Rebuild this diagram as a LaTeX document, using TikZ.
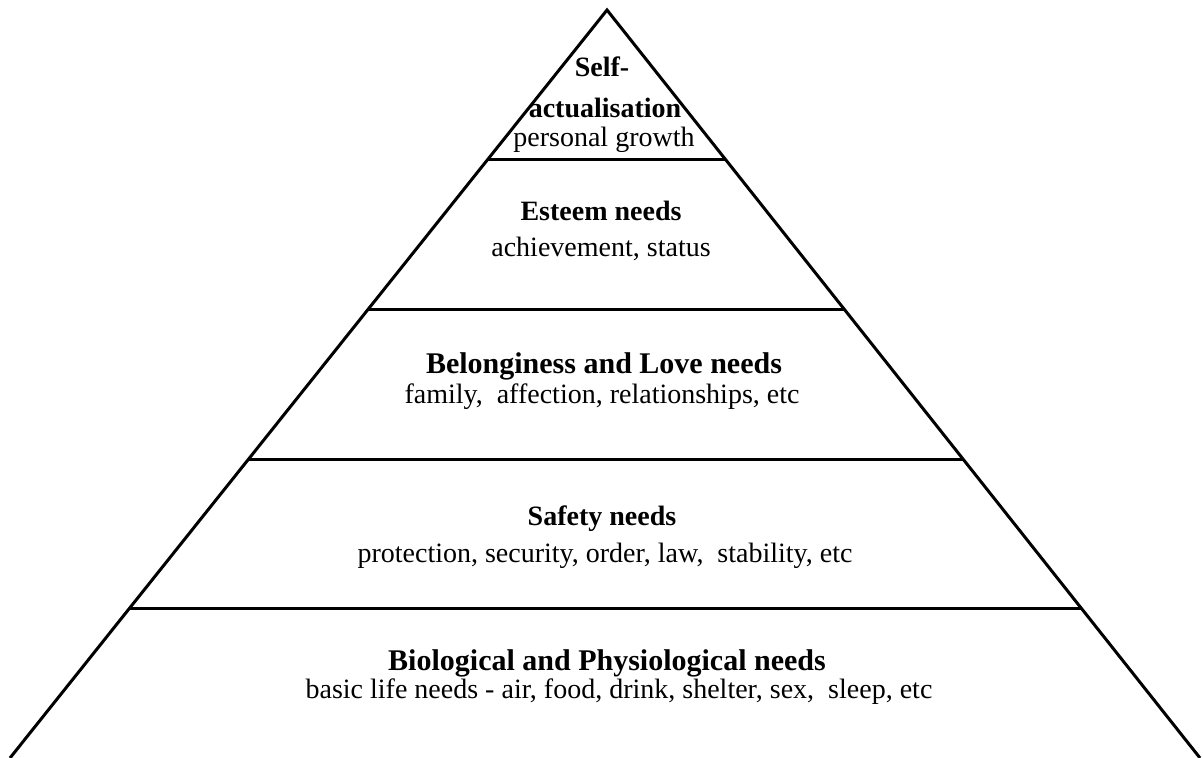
\documentclass[tikz,border=0pt]{standalone}
\usepackage{fontspec}
\setmainfont{Liberation Serif}
\usetikzlibrary{calc}
\tikzset{
  tiername/.style={font=\bfseries\fontsize{14}{16}\selectfont, inner sep=0pt, anchor=base},
  widename/.style={tiername, font=\bfseries\fontsize{15}{17}\selectfont},
  tierdesc/.style={font=\fontsize{14}{16}\selectfont, inner sep=0pt, anchor=base},
}
\begin{document}
\begin{tikzpicture}[x=0.5pt, y=-0.5pt, line width=1.5pt]
\useasboundingbox (0,0) rectangle (1203,758);
\coordinate (apex) at (607,10);
\coordinate (bl) at (10,758);
\coordinate (br) at (1200,758);
\draw[line join=miter] (bl) -- (apex) -- (br);
% tier borders
\foreach \y/\n in {160/1, 310/2, 460/3, 609/4}{
  \coordinate (l\n) at ($(apex)!{(\y-10)/748}!(bl)$);
  \coordinate (r\n) at ($(apex)!{(\y-10)/748}!(br)$);
  \draw (l\n) -- (r\n);
}
% tier texts
\node[tiername] (self1) at (602,77) {Self-};
\node[tiername] (self2) at (605,118) {actualisation};
\node[tierdesc] (selfd) at (604,147) {personal growth};
\node[tiername] (est) at (601,221) {Esteem needs};
\node[tierdesc] (estd) at (601,257) {achievement, status};
\node[widename] (bel) at (604,374) {Belonginess and Love needs};
\node[tierdesc] (beld) at (602,404) {family,\ \ affection, relationships, etc};
\node[tiername] (saf) at (602,525) {Safety needs};
\node[tierdesc] (safd) at (605,562) {protection, security, order, law,\ \ stability, etc};
\node[widename] (bio) at (607,670) {Biological and Physiological needs};
\node[tierdesc] (biod) at (619,698) {basic life needs - air, food, drink, shelter, sex,\ \ sleep, etc};
\end{tikzpicture}
\end{document}
